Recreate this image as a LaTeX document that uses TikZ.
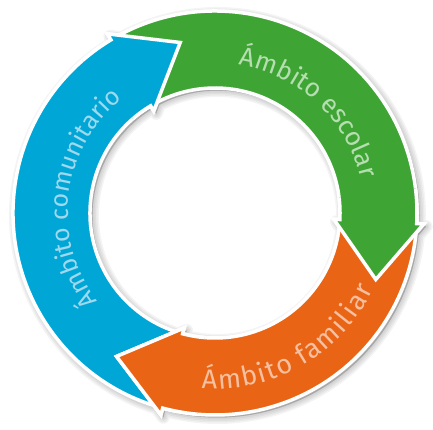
\documentclass[tikz,border=0pt]{standalone}
\usepackage{fontspec}
\newfontfamily\ringfont{Fira Sans}
\usetikzlibrary{decorations.text}

\definecolor{ringblue}{RGB}{0,167,214}
\definecolor{ringgreen}{RGB}{62,165,53}
\definecolor{ringorange}{RGB}{233,101,21}
\definecolor{bluetext}{RGB}{160,216,238}
\definecolor{greentext}{RGB}{182,222,176}
\definecolor{orangetext}{RGB}{246,192,160}

\tikzset{
  % curved ring segment: #1 = tail angle, #2 = angle of the head base (clockwise)
  cycle arrow/.style 2 args={insert path={
    (#1:202) arc[start angle=#1, end angle=#2, radius=202]
    -- (#2:209) -- ({#2-19.47}:174) -- (#2:119) -- (#2:125)
    arc[start angle=#2, end angle=#1, radius=125] -- cycle}},
  arrow body/.style={draw=white, line width=3.5pt, line join=miter, miter limit=12},
  shadow layer/.style={shift={(2.5,-2.5)}, fill=black, draw=black,
    fill opacity=0.045, draw opacity=0.045, line width=#1, line join=round},
  ring label/.style 2 args={decorate, decoration={text along path, text align=center,
    text={|\ringfont\fontsize{#1}{#1}\selectfont|#2}}},
}

\begin{document}
\begin{tikzpicture}[x=1pt, y=1pt]
\useasboundingbox (0,0) rectangle (433,430);
\begin{scope}[shift={(215,217)}]
  % soft drop shadow of the whole ring
  \foreach \w in {1,4,7,10,13}{
    \path[shadow layer=\w pt, cycle arrow={259}{121}, cycle arrow={125}{-3}, cycle arrow={1}{-105}];
  }

  % the three arrows
  \path[cycle arrow={259}{121}, fill=ringblue, arrow body];
  \path[cycle arrow={125}{-3}, fill=ringgreen, arrow body];
  \path[cycle arrow={1}{-105}, fill=ringorange, arrow body];

  % each head lies over the tail of the following arrow
  \begin{scope}
    \clip (0,0) -- (131:260) arc[start angle=131, end angle=95, radius=260] -- cycle;
    \path[cycle arrow={259}{121}, fill=ringblue, arrow body];
  \end{scope}
  \begin{scope}
    \clip (0,0) -- (7:260) arc[start angle=7, end angle=-29, radius=260] -- cycle;
    \path[cycle arrow={125}{-3}, fill=ringgreen, arrow body];
  \end{scope}
  \begin{scope}
    \clip (0,0) -- (-95:260) arc[start angle=-95, end angle=-131, radius=260] -- cycle;
    \path[cycle arrow={1}{-105}, fill=ringorange, arrow body];
  \end{scope}

  % labels
  \path[ring label={25}{Ámbito comunitario}, decoration={text color=bluetext}]
    (240:147) arc[start angle=240, end angle=106, radius=147];
  \path[ring label={26}{Ámbito escolar}, decoration={text color=greentext}]
    (100:150) arc[start angle=100, end angle=-6, radius=150];
  % letters on the inner side of the baseline get a little extra room
  \path[ring label={27}{{Á\kern1.6pt}{m\kern1.6pt}{b\kern1.6pt}{i\kern1.6pt}{t\kern1.6pt}{o\kern1.6pt} {f\kern1.6pt}{a\kern1.6pt}{m\kern1.6pt}{i\kern1.6pt}{l\kern1.6pt}{i\kern1.6pt}{a\kern1.6pt}{r}},
        decoration={text color=orangetext}]
    (250:176) arc[start angle=250, end angle=350, radius=176];
\end{scope}
\end{tikzpicture}
\end{document}
